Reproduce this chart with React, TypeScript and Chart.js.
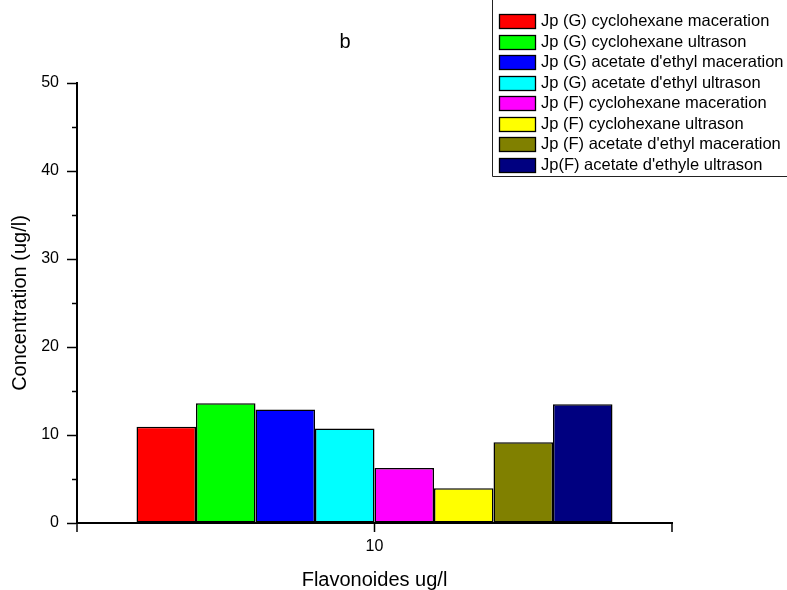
import React, { useEffect, useRef } from "react";
import { Chart, registerables } from "chart.js";

Chart.register(...registerables);

const categories = ["10"];
const seriesLabels = [
  "Jp (G) cyclohexane maceration",
  "Jp (G) cyclohexane ultrason",
  "Jp (G) acetate d'ethyl maceration",
  "Jp (G) acetate d'ethyl ultrason",
  "Jp (F) cyclohexane maceration",
  "Jp (F) cyclohexane ultrason",
  "Jp (F) acetate d'ethyl maceration",
  "Jp(F) acetate d'ethyle ultrason",
];
const seriesValues = [10.95, 13.6, 12.9, 10.75, 6.25, 3.95, 9.17, 13.5];
const seriesColors = [
  "#FF0000",
  "#00FF00",
  "#0000FF",
  "#00FFFF",
  "#FF00FF",
  "#FFFF00",
  "#808000",
  "#000080",
];
const yMin = 0;
const yMax = 50;
const yMajorStep = 10;
const yMinorTicks = [5, 15, 25, 35, 45];
const titleText = "b";
const xTitle = "Flavonoides ug/l";
const yTitle = "Concentration (ug/l)";

const FONT = "'Liberation Sans', Arial, sans-serif";

const decorPlugin = {
  id: "decor",
  afterDraw(chart: any) {
    const ctx = chart.ctx;
    const area = chart.chartArea;
    const yScale = chart.scales.y;
    ctx.save();
    ctx.strokeStyle = "#000";
    ctx.lineWidth = 1.5;
    yMinorTicks.forEach((v) => {
      const py = Math.round(yScale.getPixelForValue(v)) + 0.5;
      ctx.beginPath();
      ctx.moveTo(area.left - 5, py);
      ctx.lineTo(area.left, py);
      ctx.stroke();
    });
    [area.left, area.right].forEach((px) => {
      ctx.beginPath();
      ctx.moveTo(px, area.bottom);
      ctx.lineTo(px, area.bottom + 9);
      ctx.stroke();
    });
    ctx.fillStyle = "#000";
    ctx.font = `20px ${FONT}`;
    ctx.textAlign = "center";
    ctx.textBaseline = "alphabetic";
    ctx.fillText(titleText, 345, 48);
    ctx.lineWidth = 1;
    ctx.strokeStyle = "#222";
    ctx.beginPath();
    ctx.moveTo(492.5, 0);
    ctx.lineTo(492.5, 176.5);
    ctx.lineTo(787, 176.5);
    ctx.stroke();
    ctx.font = `16.5px ${FONT}`;
    ctx.textAlign = "left";
    ctx.textBaseline = "middle";
    chart.data.datasets.forEach((ds: any, i: number) => {
      const cy = 21 + i * 20.57;
      const top = Math.round(cy - 7) + 0.5;
      ctx.fillStyle = ds.backgroundColor;
      ctx.fillRect(499.5, top, 36, 14);
      ctx.strokeStyle = "#000";
      ctx.lineWidth = 1.3;
      ctx.strokeRect(499.5, top, 36, 14);
      ctx.fillStyle = "#000";
      ctx.fillText(ds.label, 541, cy + 0.5);
    });
    ctx.restore();
  },
};

export default function App() {
  const ref = useRef<HTMLCanvasElement | null>(null);
  useEffect(() => {
    if (!ref.current) return;
    const chart = new Chart(ref.current, {
      type: "bar",
      data: {
        labels: categories,
        datasets: seriesLabels.map((label, i) => ({
          label,
          data: [seriesValues[i]],
          backgroundColor: seriesColors[i],
          borderColor: "#000",
          borderWidth: 1.5,
          borderSkipped: false,
          categoryPercentage: 0.8,
          barPercentage: 1,
        })),
      },
      options: {
        responsive: false,
        animation: false,
        devicePixelRatio: 1,
        layout: { padding: { left: 0, top: 83, right: 115, bottom: 0 } },
        plugins: {
          legend: { display: false },
          title: { display: false },
          tooltip: { enabled: false },
        },
        scales: {
          x: {
            type: "category",
            afterFit: (s: any) => {
              s.height = 67;
            },
            grid: {
              display: true,
              drawOnChartArea: false,
              drawTicks: true,
              tickLength: 9,
              tickWidth: 1.5,
              tickColor: "#000",
              offset: false,
            },
            border: { display: true, color: "#000", width: 2 },
            ticks: {
              color: "#000",
              font: { family: FONT, size: 16 },
              padding: 5,
            },
            title: {
              display: true,
              text: xTitle,
              color: "#000",
              font: { family: FONT, size: 20, lineHeight: 1 },
              padding: { top: 0, bottom: 0 },
            },
          },
          y: {
            type: "linear",
            min: yMin,
            max: yMax,
            afterFit: (s: any) => {
              s.width = 77;
            },
            grid: {
              display: true,
              drawOnChartArea: false,
              drawTicks: true,
              tickLength: 10,
              tickWidth: 1.5,
              tickColor: "#000",
            },
            border: { display: true, color: "#000", width: 2 },
            ticks: {
              stepSize: yMajorStep,
              color: "#000",
              font: { family: FONT, size: 16 },
              padding: 8,
            },
            title: {
              display: true,
              text: yTitle,
              color: "#000",
              font: { family: FONT, size: 20, lineHeight: 1.2 },
              padding: { top: 8, bottom: 0 },
            },
          },
        },
      },
      plugins: [decorPlugin],
    });
    return () => chart.destroy();
  }, []);
  return (
    <div style={{ position: "absolute", left: 0, top: 0, width: 787, height: 590, background: "#fff" }}>
      <canvas ref={ref} width={787} height={590} style={{ display: "block", width: 787, height: 590 }} />
    </div>
  );
}
